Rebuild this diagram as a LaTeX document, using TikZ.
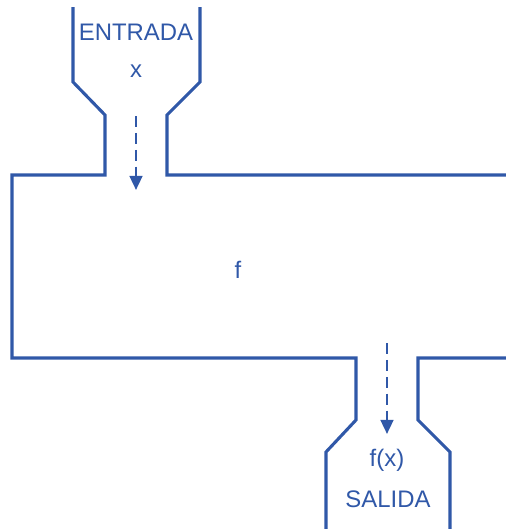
\documentclass[tikz,border=0pt]{standalone}
\usepackage{fontspec}
\setmainfont{Liberation Sans}
\usepackage{xcolor}
\usepackage{tikz}
\usetikzlibrary{arrows.meta}
\definecolor{cblue}{RGB}{48, 88, 168}

\tikzset{
  wall/.style={draw=cblue, line width=2.2pt, line join=miter},
  flow/.style={draw=cblue, line width=1.8pt, dash pattern=on 8pt off 4pt,
    -{Triangle[length=10pt, width=9pt]}},
  label/.style={text=cblue, inner sep=0pt}
}

\begin{document}
\begin{tikzpicture}[x=0.025cm, y=-0.025cm, font=\fontsize{17}{20}\selectfont]
  \useasboundingbox (0,0) rectangle (506,529);
  % machine outline
  \draw[wall] (73,7) -- (73,82) -- (105,115) -- (105,175) -- (12,175)
    -- (12,358) -- (356,358) -- (356,420) -- (326,452) -- (326,529);
  \draw[wall] (200,7) -- (200,82) -- (167,115) -- (167,175) -- (506,175);
  \draw[wall] (506,358) -- (418,358) -- (418,420) -- (450,452) -- (450,529);
  % texts
  \node[label] (entrada) at (136,32) {ENTRADA};
  \node[label] (xin) at (136,71) {x};
  \node[label] (fun) at (238,270) {f};
  \node[label] (fx) at (387,460) {f(x)};
  \node[label] (salida) at (388,499) {SALIDA};
  % flow arrows
  \coordinate (inA) at (136,116);
  \coordinate (inB) at (136,190);
  \coordinate (outA) at (387,343);
  \coordinate (outB) at (387,434);
  \draw[flow] (inA) -- (inB);
  \draw[flow] (outA) -- (outB);
\end{tikzpicture}
\end{document}
